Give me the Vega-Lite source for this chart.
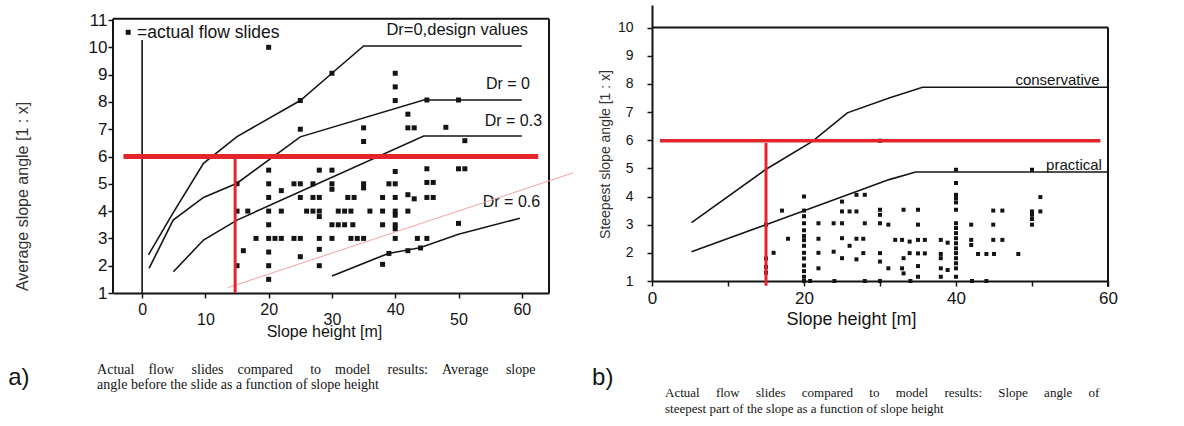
{
  "$schema": "https://vega.github.io/schema/vega-lite/v6.json",
  "background": "white",
  "padding": {"left": 8, "top": 5, "right": 5, "bottom": 5},
  "config": {
    "font": "Liberation Sans",
    "view": {"stroke": null},
    "text": {"font": "Liberation Sans", "color": "#141414"},
    "rule": {"color": "#141414"},
    "line": {"color": "#141414"}
  },
  "datasets": {
    "slidesAverage": [
      {"h": 20, "a": 10.0}, {"h": 25, "a": 8.05}, {"h": 30, "a": 9.05}, {"h": 25, "a": 7.0},
      {"h": 40, "a": 9.05}, {"h": 40, "a": 8.55}, {"h": 40, "a": 8.05}, {"h": 45, "a": 8.07}, {"h": 50, "a": 8.07},
      {"h": 42, "a": 7.55}, {"h": 42, "a": 7.05}, {"h": 43, "a": 7.05}, {"h": 35, "a": 7.05}, {"h": 35, "a": 6.55},
      {"h": 48, "a": 7.07}, {"h": 51, "a": 6.58},
      {"h": 28, "a": 6.0}, {"h": 30, "a": 6.0}, {"h": 33, "a": 6.0}, {"h": 35, "a": 6.0}, {"h": 40, "a": 6.0}, {"h": 50, "a": 6.0},
      {"h": 20, "a": 5.5}, {"h": 28, "a": 5.5}, {"h": 30, "a": 5.5}, {"h": 40, "a": 5.45}, {"h": 45, "a": 5.55}, {"h": 50, "a": 5.55}, {"h": 51, "a": 5.55},
      {"h": 15, "a": 5.0}, {"h": 20, "a": 5.0}, {"h": 24, "a": 5.0}, {"h": 25, "a": 5.0}, {"h": 27, "a": 5.0}, {"h": 30, "a": 5.0},
      {"h": 30, "a": 4.8}, {"h": 35, "a": 5.0}, {"h": 35, "a": 4.85}, {"h": 39, "a": 5.0}, {"h": 40, "a": 5.0}, {"h": 45, "a": 5.05}, {"h": 46, "a": 5.05},
      {"h": 22, "a": 4.75}, {"h": 20, "a": 4.5}, {"h": 25, "a": 4.5}, {"h": 27, "a": 4.5}, {"h": 28, "a": 4.5}, {"h": 32.5, "a": 4.5},
      {"h": 33.5, "a": 4.5}, {"h": 38, "a": 4.5}, {"h": 40, "a": 4.5}, {"h": 42, "a": 4.6}, {"h": 43, "a": 4.45}, {"h": 45, "a": 4.5}, {"h": 46, "a": 4.5},
      {"h": 15, "a": 4.0}, {"h": 16.7, "a": 4.0}, {"h": 20, "a": 4.0}, {"h": 22, "a": 4.0}, {"h": 26, "a": 4.0}, {"h": 27, "a": 4.0},
      {"h": 28, "a": 4.0}, {"h": 31, "a": 4.0}, {"h": 32, "a": 4.0}, {"h": 33, "a": 4.0}, {"h": 36, "a": 4.0}, {"h": 38, "a": 4.0},
      {"h": 40, "a": 4.0}, {"h": 40, "a": 3.85}, {"h": 42, "a": 4.0}, {"h": 28, "a": 3.8},
      {"h": 20, "a": 3.5}, {"h": 30, "a": 3.5}, {"h": 31, "a": 3.5}, {"h": 32, "a": 3.5}, {"h": 33.3, "a": 3.5}, {"h": 38, "a": 3.5},
      {"h": 40, "a": 3.5}, {"h": 40, "a": 3.35}, {"h": 50, "a": 3.55},
      {"h": 18, "a": 3.0}, {"h": 20, "a": 3.0}, {"h": 21, "a": 3.0}, {"h": 22, "a": 3.0}, {"h": 24, "a": 3.0}, {"h": 25, "a": 3.0},
      {"h": 28, "a": 3.0}, {"h": 30, "a": 3.0}, {"h": 33, "a": 3.0}, {"h": 34, "a": 3.0}, {"h": 35, "a": 3.0}, {"h": 40, "a": 3.0},
      {"h": 43.5, "a": 3.0}, {"h": 45, "a": 3.0},
      {"h": 16, "a": 2.55}, {"h": 20, "a": 2.5}, {"h": 28, "a": 2.6}, {"h": 25, "a": 2.33},
      {"h": 39, "a": 2.45}, {"h": 42, "a": 2.55}, {"h": 44, "a": 2.65},
      {"h": 15, "a": 2.0}, {"h": 20, "a": 2.0}, {"h": 28, "a": 2.0}, {"h": 38, "a": 2.05}, {"h": 20, "a": 1.5}
    ],
    "modelAverage": [
      {"curve": "design", "h": 1.0, "a": 2.4}, {"curve": "design", "h": 4.8, "a": 3.9}, {"curve": "design", "h": 9.7, "a": 5.75},
      {"curve": "design", "h": 15, "a": 6.73}, {"curve": "design", "h": 25, "a": 8.05}, {"curve": "design", "h": 30, "a": 9.05},
      {"curve": "design", "h": 35, "a": 10.05}, {"curve": "design", "h": 60, "a": 10.05},
      {"curve": "Dr0", "h": 1.1, "a": 1.9}, {"curve": "Dr0", "h": 4.9, "a": 3.67}, {"curve": "Dr0", "h": 9.7, "a": 4.5},
      {"curve": "Dr0", "h": 15, "a": 5.02}, {"curve": "Dr0", "h": 25, "a": 6.72}, {"curve": "Dr0", "h": 44.5, "a": 8.07},
      {"curve": "Dr0", "h": 60, "a": 8.07},
      {"curve": "Dr03", "h": 4.95, "a": 1.78}, {"curve": "Dr03", "h": 9.7, "a": 2.94}, {"curve": "Dr03", "h": 15, "a": 3.67},
      {"curve": "Dr03", "h": 44.5, "a": 6.75}, {"curve": "Dr03", "h": 60, "a": 6.75},
      {"curve": "Dr06", "h": 30, "a": 1.62}, {"curve": "Dr06", "h": 38.9, "a": 2.45}, {"curve": "Dr06", "h": 43.9, "a": 2.66},
      {"curve": "Dr06", "h": 50, "a": 3.15}, {"curve": "Dr06", "h": 59.7, "a": 3.74}
    ],
    "slidesSteepest": [
      {"h": 15, "a": 3.0}, {"h": 15, "a": 1.8}, {"h": 15, "a": 1.5}, {"h": 15, "a": 1.3}, {"h": 16, "a": 2.0}, {"h": 17.1, "a": 3.5}, {"h": 17.9, "a": 2.5},
      {"h": 20, "a": 4.0}, {"h": 20, "a": 3.5}, {"h": 20, "a": 3.3}, {"h": 20, "a": 3.05}, {"h": 20, "a": 2.8}, {"h": 20, "a": 2.6},
      {"h": 20, "a": 2.45}, {"h": 20, "a": 2.25}, {"h": 20, "a": 2.0}, {"h": 20, "a": 1.8}, {"h": 20, "a": 1.55}, {"h": 20, "a": 1.35},
      {"h": 20, "a": 1.15}, {"h": 20, "a": 1.0},
      {"h": 21.9, "a": 3.05}, {"h": 21.9, "a": 2.5}, {"h": 21.9, "a": 2.0}, {"h": 21.9, "a": 1.45}, {"h": 20.8, "a": 1.0},
      {"h": 23.9, "a": 3.05}, {"h": 25, "a": 3.05}, {"h": 25, "a": 3.82}, {"h": 25, "a": 3.47}, {"h": 26, "a": 3.47}, {"h": 26.9, "a": 3.47},
      {"h": 26.9, "a": 4.06}, {"h": 28, "a": 4.06}, {"h": 25, "a": 2.52}, {"h": 26, "a": 2.25}, {"h": 26.9, "a": 2.5}, {"h": 27.8, "a": 2.5},
      {"h": 23.9, "a": 2.04}, {"h": 25, "a": 1.81}, {"h": 26.9, "a": 1.77}, {"h": 27.8, "a": 1.99}, {"h": 28, "a": 3.05},
      {"h": 24, "a": 1.0}, {"h": 28, "a": 1.0},
      {"h": 30, "a": 3.53}, {"h": 30, "a": 3.35}, {"h": 30, "a": 3.05}, {"h": 31.1, "a": 3.0}, {"h": 30, "a": 1.99}, {"h": 30, "a": 1.69},
      {"h": 31.1, "a": 1.45}, {"h": 30, "a": 1.0},
      {"h": 33.1, "a": 3.53}, {"h": 32, "a": 2.46}, {"h": 32.9, "a": 2.46}, {"h": 33.9, "a": 2.4}, {"h": 33.1, "a": 1.81},
      {"h": 32.9, "a": 1.45}, {"h": 33.1, "a": 1.27}, {"h": 33.9, "a": 1.99}, {"h": 34, "a": 1.0},
      {"h": 35, "a": 3.53}, {"h": 35, "a": 3.0}, {"h": 35, "a": 2.46}, {"h": 35.9, "a": 2.46}, {"h": 35, "a": 1.98}, {"h": 35.9, "a": 1.98},
      {"h": 35, "a": 1.53}, {"h": 35, "a": 1.15},
      {"h": 38, "a": 2.46}, {"h": 38.9, "a": 2.36}, {"h": 38, "a": 1.96}, {"h": 38, "a": 1.81}, {"h": 38, "a": 1.45}, {"h": 38.9, "a": 1.39}, {"h": 38, "a": 1.15},
      {"h": 40, "a": 4.95}, {"h": 40, "a": 4.48}, {"h": 40, "a": 4.06}, {"h": 40, "a": 3.94}, {"h": 40, "a": 3.79}, {"h": 40, "a": 3.53},
      {"h": 40, "a": 3.05}, {"h": 40, "a": 2.88}, {"h": 40, "a": 2.7}, {"h": 40, "a": 2.52}, {"h": 40, "a": 2.34}, {"h": 40, "a": 2.16},
      {"h": 40, "a": 1.99}, {"h": 40, "a": 1.81}, {"h": 40, "a": 1.63}, {"h": 40, "a": 1.45}, {"h": 40, "a": 1.15},
      {"h": 42, "a": 3.0}, {"h": 42, "a": 2.46}, {"h": 42, "a": 2.28}, {"h": 42.9, "a": 1.96}, {"h": 44, "a": 1.96}, {"h": 45, "a": 1.96},
      {"h": 42.1, "a": 1.0}, {"h": 44, "a": 1.0},
      {"h": 44.9, "a": 3.5}, {"h": 46.1, "a": 3.5}, {"h": 44.9, "a": 3.0}, {"h": 44.9, "a": 2.46}, {"h": 46.1, "a": 2.46}, {"h": 48.2, "a": 1.96},
      {"h": 50, "a": 4.95}, {"h": 50, "a": 3.47}, {"h": 50, "a": 3.35}, {"h": 50, "a": 3.2}, {"h": 50, "a": 3.0},
      {"h": 51.1, "a": 3.98}, {"h": 51.1, "a": 3.47}, {"h": 30, "a": 5.98}
    ],
    "modelSteepest": [
      {"curve": "conservative", "h": 5.2, "a": 3.07}, {"curve": "conservative", "h": 14.9, "a": 4.95},
      {"curve": "conservative", "h": 21.1, "a": 5.96}, {"curve": "conservative", "h": 25.7, "a": 6.97},
      {"curve": "conservative", "h": 31.2, "a": 7.5}, {"curve": "conservative", "h": 35.6, "a": 7.88},
      {"curve": "conservative", "h": 60, "a": 7.88},
      {"curve": "practical", "h": 5.2, "a": 2.04}, {"curve": "practical", "h": 14.9, "a": 2.99},
      {"curve": "practical", "h": 31.2, "a": 4.6}, {"curve": "practical", "h": 34.7, "a": 4.87},
      {"curve": "practical", "h": 60, "a": 4.87}
    ]
  },
  "bounds": "flush",
  "spacing": 103,
  "hconcat": [
    {
      "width": 436,
      "height": 288,
      "layer": [
        {
          "data": {"name": "modelAverage"},
          "mark": {"type": "line", "strokeWidth": 1.6, "color": "#161616"},
          "encoding": {
            "x": {
              "field": "h", "type": "quantitative",
              "scale": {"domain": [-4.6, 64.3], "nice": false, "zero": false},
              "axis": {
                "title": "Slope height [m]", "values": [0, 10, 20, 30, 40, 50, 60], "tickCount": 12, "grid": false,
                "domainColor": "#141414", "domainWidth": 2, "tickColor": "#141414", "tickWidth": 1.5, "tickSize": 5,
                "labelFontSize": 16, "labelColor": "#141414", "labelFlush": false, "labelOverlap": false,
                "labelPadding": {"condition": {"test": "datum.value % 20 !== 0", "value": 13}, "value": 3},
                "titleFontSize": 16, "titleFontWeight": "normal", "titleColor": "#141414",
                "titleX": 211, "titleY": 38, "titleBaseline": "middle", "titleAlign": "center"
              }
            },
            "y": {
              "field": "a", "type": "quantitative",
              "scale": {"domain": [1, 11.55], "nice": false, "zero": false},
              "axis": {
                "title": "Average slope angle [1 : x]", "values": [1, 2, 3, 4, 5, 6, 7, 8, 9, 10, 11], "tickCount": 12, "grid": false,
                "domain": false, "tickColor": "#141414", "tickWidth": 1.5, "tickSize": 5, "labelPadding": 1,
                "labelFontSize": 17, "labelColor": "#141414", "labelOverlap": false, "labelFlush": false,
                "titleFontSize": 16, "titleFontWeight": "normal", "titleColor": "#333333",
                "titleX": -91, "titleY": 191, "titleBaseline": "middle", "titleAlign": "center", "titleAngle": 270
              }
            },
            "detail": {"field": "curve"}
          }
        },
        {
          "data": {"values": [{}]},
          "mark": {"type": "rule", "strokeWidth": 2},
          "encoding": {"x": {"datum": -4.6}, "x2": {"datum": 64.3}, "y": {"datum": 11.05}}
        },
        {
          "data": {"values": [{}]},
          "mark": {"type": "rule", "strokeWidth": 2},
          "encoding": {"x": {"datum": -4.6}, "y": {"datum": 1}, "y2": {"datum": 11.05}}
        },
        {
          "data": {"values": [{}]},
          "mark": {"type": "rule", "strokeWidth": 2},
          "encoding": {"x": {"datum": 64.3}, "y": {"datum": 1}, "y2": {"datum": 11.05}}
        },
        {
          "data": {"values": [{}]},
          "mark": {"type": "rule", "strokeWidth": 1.6},
          "encoding": {"x": {"datum": 0}, "y": {"datum": 1}, "y2": {"datum": 10.27}}
        },
        {
          "data": {"name": "slidesAverage"},
          "mark": {"type": "square", "size": 25, "color": "#141414", "opacity": 1},
          "encoding": {"x": {"field": "h", "type": "quantitative"}, "y": {"field": "a", "type": "quantitative"}}
        },
        {
          "data": {"values": [{}]},
          "mark": {"type": "square", "size": 25, "color": "#141414", "opacity": 1},
          "encoding": {"x": {"datum": -2.2}, "y": {"datum": 10.55}}
        },
        {
          "data": {"values": [{}]},
          "mark": {"type": "text", "text": "=actual flow slides", "align": "left", "baseline": "middle", "fontSize": 17.5},
          "encoding": {"x": {"datum": -0.8}, "y": {"datum": 10.52}}
        },
        {
          "data": {"values": [{}]},
          "mark": {"type": "text", "text": "Dr=0,design values", "align": "right", "baseline": "middle", "fontSize": 16.5},
          "encoding": {"x": {"datum": 61.0}, "y": {"datum": 10.63}}
        },
        {
          "data": {"values": [{}]},
          "mark": {"type": "text", "text": "Dr = 0", "align": "right", "baseline": "middle", "fontSize": 16},
          "encoding": {"x": {"datum": 61.3}, "y": {"datum": 8.66}}
        },
        {
          "data": {"values": [{}]},
          "mark": {"type": "text", "text": "Dr = 0.3", "align": "right", "baseline": "middle", "fontSize": 16},
          "encoding": {"x": {"datum": 63.2}, "y": {"datum": 7.3}}
        },
        {
          "data": {"values": [{}]},
          "mark": {"type": "text", "text": "Dr = 0.6", "align": "right", "baseline": "middle", "fontSize": 16},
          "encoding": {"x": {"datum": 62.9}, "y": {"datum": 4.33}}
        },
        {
          "data": {"values": [{}]},
          "mark": {"type": "rule", "strokeWidth": 1, "color": "#f2a3a3"},
          "encoding": {"x": {"datum": 13.6}, "y": {"datum": 1.2}, "x2": {"datum": 68.1}, "y2": {"datum": 5.4}}
        },
        {
          "data": {"values": [{}]},
          "mark": {"type": "rule", "strokeWidth": 5, "color": "#e3262c"},
          "encoding": {"x": {"datum": -2.95}, "x2": {"datum": 62.6}, "y": {"datum": 6.0}}
        },
        {
          "data": {"values": [{}]},
          "mark": {"type": "rule", "strokeWidth": 3, "color": "#e3262c"},
          "encoding": {"x": {"datum": 14.7}, "y": {"datum": 1.0}, "y2": {"datum": 6.0}}
        },
        {
          "data": {"values": [{}]},
          "mark": {"type": "text", "text": "a)", "align": "left", "baseline": "middle", "fontSize": 24},
          "encoding": {"x": {"datum": -21.17}, "y": {"datum": -2.11}}
        },
        {
          "data": {"values": [{}]},
          "mark": {"type": "text", "text": "Actual \u00a0\u00a0\u00a0flow \u00a0\u00a0\u00a0\u00a0slides \u00a0\u00a0\u00a0compared \u00a0\u00a0\u00a0\u00a0to \u00a0\u00a0\u00a0model \u00a0\u00a0\u00a0\u00a0results: \u00a0\u00a0\u00a0Average \u00a0\u00a0\u00a0\u00a0slope", "font": "Liberation Serif", "align": "left", "baseline": "middle", "fontSize": 14},
          "encoding": {"x": {"datum": -7.11}, "y": {"datum": -1.82}}
        },
        {
          "data": {"values": [{}]},
          "mark": {"type": "text", "text": "angle before the slide as a function of slope height", "font": "Liberation Serif", "align": "left", "baseline": "middle", "fontSize": 14},
          "encoding": {"x": {"datum": -7.11}, "y": {"datum": -2.37}}
        }
      ]
    },
    {
      "width": 456,
      "height": 276,
      "layer": [
        {
          "data": {"name": "modelSteepest"},
          "mark": {"type": "line", "strokeWidth": 1.6, "color": "#161616"},
          "encoding": {
            "x": {
              "field": "h", "type": "quantitative",
              "scale": {"domain": [0, 60], "nice": false, "zero": false},
              "axis": {
                "title": "Slope height [m]", "values": [0, 10, 20, 30, 40, 50, 60], "tickCount": 12, "grid": false,
                "labelExpr": "datum.value % 20 ? '' : datum.label",
                "domainColor": "#141414", "domainWidth": 2, "tickColor": "#141414", "tickWidth": 1.5, "tickSize": 5,
                "labelFontSize": 17, "labelColor": "#141414", "labelFlush": false, "labelOverlap": false, "labelPadding": 4,
                "titleFontSize": 18, "titleFontWeight": "normal", "titleColor": "#141414",
                "titleX": 199, "titleY": 38, "titleBaseline": "middle", "titleAlign": "center"
              }
            },
            "y": {
              "field": "a", "type": "quantitative",
              "scale": {"domain": [1, 10.8], "nice": false, "zero": false},
              "axis": {
                "title": "Steepest slope angle [1 : x]", "values": [1, 2, 3, 4, 5, 6, 7, 8, 9, 10], "tickCount": 12, "grid": false,
                "domainColor": "#141414", "domainWidth": 2, "tickColor": "#141414", "tickWidth": 1.5, "tickSize": 5,
                "labelPadding": 14, "labelFontSize": 14, "labelColor": "#141414", "labelOverlap": false, "labelFlush": false,
                "titleFontSize": 14, "titleFontWeight": "normal", "titleColor": "#333333",
                "titleX": -47, "titleY": 149, "titleBaseline": "middle", "titleAlign": "center", "titleAngle": 270
              }
            },
            "detail": {"field": "curve"}
          }
        },
        {
          "data": {"values": [{}]},
          "mark": {"type": "rule", "strokeWidth": 2},
          "encoding": {"x": {"datum": 0}, "x2": {"datum": 60}, "y": {"datum": 10}}
        },
        {
          "data": {"values": [{}]},
          "mark": {"type": "rule", "strokeWidth": 2},
          "encoding": {"x": {"datum": 60}, "y": {"datum": 0.8}, "y2": {"datum": 10}}
        },
        {
          "data": {"name": "slidesSteepest"},
          "mark": {"type": "square", "size": 16, "color": "#141414", "opacity": 1},
          "encoding": {"x": {"field": "h", "type": "quantitative"}, "y": {"field": "a", "type": "quantitative"}}
        },
        {
          "data": {"values": [{}]},
          "mark": {"type": "text", "text": "conservative", "align": "right", "baseline": "middle", "fontSize": 15},
          "encoding": {"x": {"datum": 58.9}, "y": {"datum": 8.15}}
        },
        {
          "data": {"values": [{}]},
          "mark": {"type": "text", "text": "practical", "align": "right", "baseline": "middle", "fontSize": 15},
          "encoding": {"x": {"datum": 59.2}, "y": {"datum": 5.13}}
        },
        {
          "data": {"values": [{}]},
          "mark": {"type": "rule", "strokeWidth": 3.5, "color": "#e3262c"},
          "encoding": {"x": {"datum": 1.05}, "x2": {"datum": 59.0}, "y": {"datum": 5.98}}
        },
        {
          "data": {"values": [{}]},
          "mark": {"type": "rule", "strokeWidth": 3, "color": "#e3262c"},
          "encoding": {"x": {"datum": 15}, "y": {"datum": 0.83}, "y2": {"datum": 5.9}}
        },
        {
          "data": {"values": [{}]},
          "mark": {"type": "text", "text": "b)", "align": "left", "baseline": "middle", "fontSize": 24},
          "encoding": {"x": {"datum": -7.89}, "y": {"datum": -2.45}}
        },
        {
          "data": {"values": [{}]},
          "mark": {"type": "text", "text": "Actual \u00a0\u00a0\u00a0\u00a0flow \u00a0\u00a0\u00a0\u00a0slides \u00a0\u00a0\u00a0\u00a0compared \u00a0\u00a0\u00a0\u00a0to \u00a0\u00a0\u00a0\u00a0model \u00a0\u00a0\u00a0\u00a0results: \u00a0\u00a0\u00a0\u00a0Slope \u00a0\u00a0\u00a0\u00a0angle \u00a0\u00a0\u00a0\u00a0of", "font": "Liberation Serif", "align": "left", "baseline": "middle", "fontSize": 13},
          "encoding": {"x": {"datum": 1.71}, "y": {"datum": -2.99}}
        },
        {
          "data": {"values": [{}]},
          "mark": {"type": "text", "text": "steepest part of the slope as a function of slope height", "font": "Liberation Serif", "align": "left", "baseline": "middle", "fontSize": 13},
          "encoding": {"x": {"datum": 1.71}, "y": {"datum": -3.56}}
        }
      ]
    }
  ]
}
